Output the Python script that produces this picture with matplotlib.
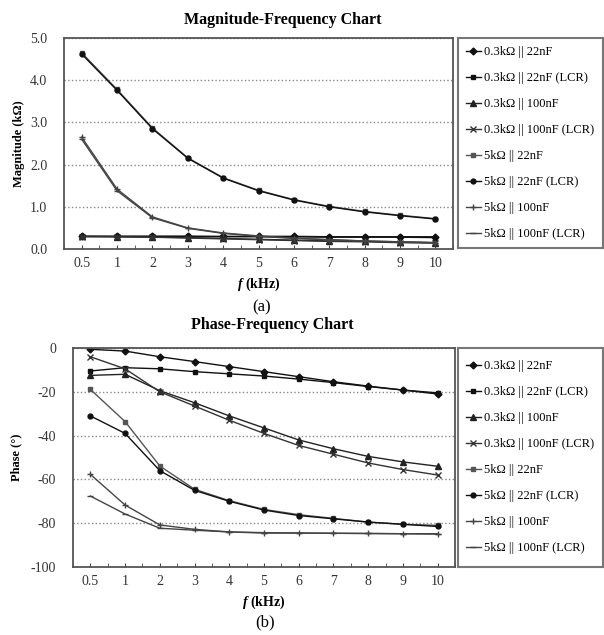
import matplotlib
matplotlib.use("Agg")
import matplotlib.pyplot as plt
import numpy as np

plt.rcParams['font.family'] = ['Liberation Serif', 'DejaVu Serif']
plt.rcParams['mathtext.fontset'] = 'custom'
plt.rcParams['mathtext.rm'] = 'Liberation Serif'
plt.rcParams['mathtext.it'] = 'Liberation Serif:italic:bold'
plt.rcParams['axes.unicode_minus'] = False

# datos
freq_labels = ['0.5', '1', '2', '3', '4', '5', '6', '7', '8', '9', '10']
series_labels = ['0.3kΩ || 22nF', '0.3kΩ || 22nF (LCR)', '0.3kΩ || 100nF',
                 '0.3kΩ || 100nF (LCR)', '5kΩ || 22nF', '5kΩ || 22nF (LCR)',
                 '5kΩ || 100nF', '5kΩ || 100nF (LCR)']

# magnitud (kOhm)
mag_03_22 = [0.30, 0.30, 0.30, 0.30, 0.30, 0.30, 0.30, 0.29, 0.29, 0.29, 0.29]
mag_03_22_lcr = [0.30, 0.30, 0.30, 0.30, 0.29, 0.29, 0.29, 0.28, 0.28, 0.28, 0.27]
mag_03_100 = [0.30, 0.29, 0.28, 0.27, 0.25, 0.23, 0.21, 0.19, 0.18, 0.16, 0.15]
mag_03_100_lcr = [0.29, 0.29, 0.28, 0.26, 0.24, 0.22, 0.20, 0.18, 0.17, 0.15, 0.14]
mag_5_22 = [4.65, 3.78, 2.87, 2.16, 1.69, 1.39, 1.17, 1.01, 0.89, 0.80, 0.72]
mag_5_22_lcr = [4.62, 3.76, 2.85, 2.15, 1.68, 1.38, 1.16, 1.00, 0.88, 0.79, 0.71]
mag_5_100 = [2.65, 1.42, 0.76, 0.50, 0.38, 0.31, 0.26, 0.22, 0.19, 0.17, 0.15]
mag_5_100_lcr = [2.60, 1.38, 0.74, 0.49, 0.37, 0.30, 0.25, 0.22, 0.19, 0.17, 0.15]

# fase (grados)
ph_03_22 = [-0.6, -1.4, -4.0, -6.2, -8.5, -10.8, -13.1, -15.4, -17.4, -19.2, -21.0]
ph_03_22_lcr = [-10.5, -9.0, -9.5, -10.8, -11.8, -12.8, -14.2, -15.8, -17.6, -19.2, -20.5]
ph_03_100 = [-12.5, -12.0, -19.5, -25.0, -31.0, -36.5, -42.0, -46.0, -49.5, -52.0, -54.0]
ph_03_100_lcr = [-4.0, -9.5, -20.0, -26.5, -33.0, -39.0, -44.5, -48.5, -52.5, -55.5, -58.0]
ph_5_22 = [-18.9, -33.6, -53.9, -64.5, -69.7, -73.7, -76.1, -77.8, -79.5, -80.5, -81.0]
ph_5_22_lcr = [-31.0, -39.0, -56.0, -65.0, -70.0, -74.0, -76.5, -78.0, -79.5, -80.5, -81.5]
ph_5_100 = [-57.7, -71.7, -80.8, -82.8, -84.0, -84.3, -84.5, -84.6, -84.7, -84.8, -84.8]
ph_5_100_lcr = [-67.6, -75.8, -82.3, -83.2, -84.0, -84.5, -84.5, -84.6, -84.7, -84.8, -85.0]

mag_series = [mag_03_22, mag_03_22_lcr, mag_03_100, mag_03_100_lcr,
              mag_5_22, mag_5_22_lcr, mag_5_100, mag_5_100_lcr]
ph_series = [ph_03_22, ph_03_22_lcr, ph_03_100, ph_03_100_lcr,
             ph_5_22, ph_5_22_lcr, ph_5_100, ph_5_100_lcr]

markers = ['D', 's', '^', 'x', 's', 'o', '+', '_']
colors = ['#111111', '#111111', '#222222', '#333333', '#555555', '#111111', '#444444', '#444444']
msizes = [3.5, 3.5, 4, 4.5, 3.5, 3.5, 5, 5]

W, H = 604, 635
fig = plt.figure(figsize=(W / 100, H / 100), dpi=100)


def box(x0, y0, x1, y1):
    # pixeles -> coordenadas de figura
    return [x0 / W, 1 - y1 / H, (x1 - x0) / W, (y1 - y0) / H]


def draw(ax, ax_leg, series):
    x = np.arange(len(freq_labels))
    handles = []
    for s, m, c, ms in zip(series, markers, colors, msizes):
        h, = ax.plot(x, s, marker=m, color=c, lw=1.0, ms=ms, mew=1.0)
        handles.append(h)
    ax.set_xlim(-0.5, len(freq_labels) - 0.5)
    ax.set_xticks(x)
    ax.set_xticklabels(freq_labels, fontsize=10, color='#333333')
    ax.set_xticks(np.arange(-0.5, len(freq_labels), 1.0), minor=True)
    ax.tick_params(axis='x', which='both', direction='in', length=3, color='#444444', pad=6)
    ax.tick_params(axis='y', length=0, labelsize=10, labelcolor='#333333', pad=12)
    ax.yaxis.grid(True, linestyle=':', color='#888888', lw=1.0)
    for sp in ax.spines.values():
        sp.set_color('#555555')
        sp.set_linewidth(1.3)
    ax.set_xlabel(r'$f$ (kHz)', fontsize=10, fontweight='bold', labelpad=4)
    # caja de leyenda aparte
    ax_leg.set_xticks([])
    ax_leg.set_yticks([])
    for sp in ax_leg.spines.values():
        sp.set_color('#777777')
        sp.set_linewidth(1.5)
    ax_leg.legend(handles, series_labels, loc='center left', frameon=False,
                  fontsize=9, labelspacing=1.12, handlelength=1.2,
                  handletextpad=0.3, borderaxespad=0.2)


ax1 = fig.add_axes(box(64, 38, 453, 249))
leg1 = fig.add_axes(box(458, 38, 603, 248))
draw(ax1, leg1, mag_series)
ax1.set_ylim(0, 5)
ax1.set_yticks(np.arange(0, 5.01, 1.0))
ax1.set_yticklabels(['%.1f' % v for v in np.arange(0, 5.01, 1.0)])
ax1.set_ylabel('Magnitude (kΩ)', fontsize=9, fontweight='bold', labelpad=4)
fig.text(283 / W, 1 - 20 / H, 'Magnitude-Frequency Chart', ha='center', va='center',
         fontsize=11.5, fontweight='bold')
fig.text(262 / W, 1 - 307 / H, '(a)', ha='center', va='center', fontsize=12)

ax2 = fig.add_axes(box(73, 348, 455, 567))
leg2 = fig.add_axes(box(458, 348, 603, 567))
draw(ax2, leg2, ph_series)
ax2.set_ylim(-100, 0)
ax2.set_yticks(np.arange(-100, 1, 20))
ax2.set_ylabel('Phase (°)', fontsize=9, fontweight='bold', labelpad=6)
fig.text(272 / W, 1 - 325 / H, 'Phase-Frequency Chart', ha='center', va='center',
         fontsize=11.5, fontweight='bold')
fig.text(265 / W, 1 - 622 / H, '(b)', ha='center', va='center', fontsize=12)

fig.savefig('out.png', dpi=100)
